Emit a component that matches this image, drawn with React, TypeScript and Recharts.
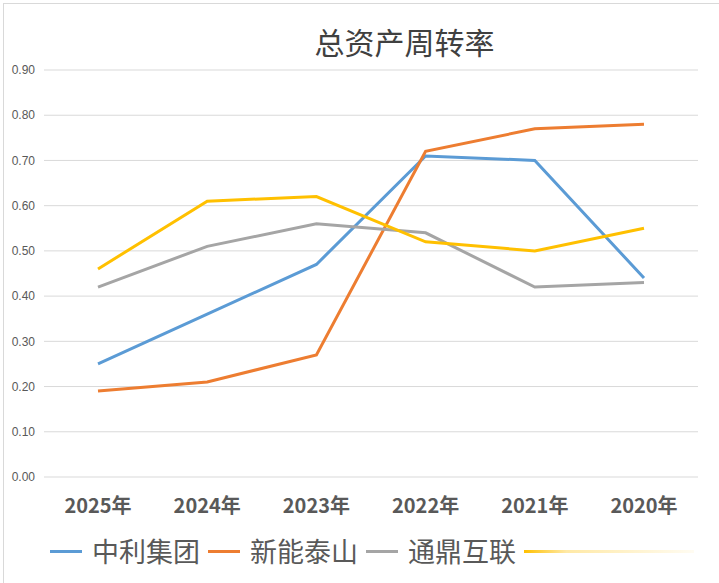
import { LineChart, Line, XAxis, YAxis, CartesianGrid } from 'recharts';

const years = ['2025年', '2024年', '2023年', '2022年', '2021年', '2020年'];
const zhongli = [0.25, 0.36, 0.47, 0.71, 0.7, 0.44];
const xinneng = [0.19, 0.21, 0.27, 0.72, 0.77, 0.78];
const tongding = [0.42, 0.51, 0.56, 0.54, 0.42, 0.43];
const fourth = [0.46, 0.61, 0.62, 0.52, 0.5, 0.55];
const yTicks = [0, 0.1, 0.2, 0.3, 0.4, 0.5, 0.6, 0.7, 0.8, 0.9];

const SERIES = [
  { key: 'zhongli', name: '中利集团', color: '#5B9BD5' },
  { key: 'xinneng', name: '新能泰山', color: '#ED7D31' },
  { key: 'tongding', name: '通鼎互联', color: '#A5A5A5' },
  { key: 'fourth', name: '', color: '#FFC000' },
];

const data = years.map((year, i) => ({
  year,
  zhongli: zhongli[i],
  xinneng: xinneng[i],
  tongding: tongding[i],
  fourth: fourth[i],
}));

const FONT = '"Noto Sans CJK SC", "Liberation Sans", sans-serif';

function YearTick({ x, y, payload }: any) {
  return (
    <text
      x={x}
      y={y + 19}
      textAnchor="middle"
      dominantBaseline="central"
      fontSize={20}
      fontWeight="bold"
      fill="#595959"
      fontFamily={FONT}
    >
      {payload.value}
    </text>
  );
}

export default function App() {
  return (
    <div
      style={{
        position: 'absolute',
        left: 0,
        top: 0,
        width: 719,
        height: 583,
        background: '#fff',
        overflow: 'hidden',
        fontFamily: FONT,
      }}
    >
      {/* chart frame edges */}
      <div style={{ position: 'absolute', left: 3, top: 3, width: 716, height: 580, borderLeft: '1px solid #d9d9d9', borderTop: '1px solid #d9d9d9' }} />
      <div
        style={{
          position: 'absolute',
          left: 0,
          top: 21,
          width: 719,
          textAlign: 'center',
          paddingLeft: 90,
          boxSizing: 'border-box',
          fontSize: 30,
          color: '#404040',
          lineHeight: '40px',
        }}
      >
        总资产周转率
      </div>
      <div style={{ position: 'absolute', left: 0, top: 0 }}>
        <LineChart width={719} height={583} data={data} margin={{ top: 70, right: 21, bottom: 76, left: 0 }}>
          <CartesianGrid horizontal vertical={false} stroke="#d9d9d9" strokeWidth={1} />
          <XAxis
            dataKey="year"
            height={30}
            axisLine={false}
            tickLine={false}
            tick={<YearTick />}
            padding={{ left: 54, right: 54 }}
            interval={0}
          />
          <YAxis
            width={44}
            domain={[0, 0.9]}
            ticks={yTicks}
            axisLine={false}
            tickLine={false}
            tickSize={0}
            tickMargin={9}
            tickFormatter={(v: number) => v.toFixed(2)}
            tick={{ fontSize: 12, fill: '#595959', fontFamily: '"Liberation Sans", sans-serif' }}
          />
          {SERIES.map((s) => (
            <Line
              key={s.key}
              type="linear"
              dataKey={s.key}
              name={s.name}
              stroke={s.color}
              strokeWidth={3}
              dot={false}
              activeDot={false}
              isAnimationActive={false}
            />
          ))}
        </LineChart>
      </div>
      {/* legend */}
      <div style={{ position: 'absolute', left: 50, top: 532, height: 38, display: 'flex', alignItems: 'center', whiteSpace: 'nowrap' }}>
        {SERIES.slice(0, 3).map((s) => (
          <div key={s.key} style={{ display: 'flex', alignItems: 'center', marginRight: 8 }}>
            <div style={{ width: 32, height: 3, background: s.color, marginRight: 10 }} />
            <span style={{ fontSize: 27, color: '#595959', lineHeight: '38px' }}>{s.name}</span>
          </div>
        ))}
        <div
          style={{
            width: 170,
            height: 3,
            background: 'linear-gradient(to right, #FFC000 0%, rgba(255,192,0,0.35) 25%, rgba(255,192,0,0.05) 100%)',
          }}
        />
      </div>
    </div>
  );
}
